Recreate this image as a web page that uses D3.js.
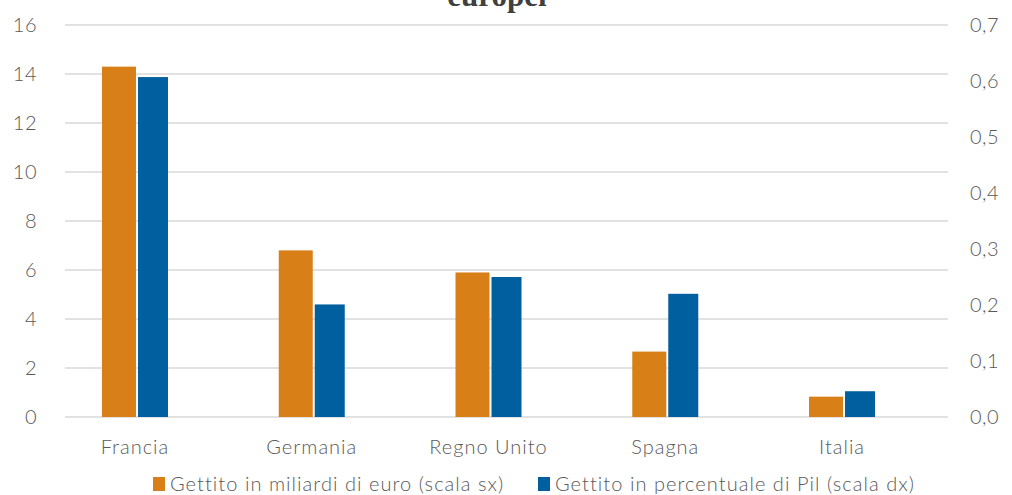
<!DOCTYPE html>
<html>
<head>
<meta charset="utf-8">
<script src="https://cdn.jsdelivr.net/npm/d3@7"></script>
<style>
  body { margin: 0; background: #fff; }
  text { font-family: Lato, "Open Sans", sans-serif; font-weight: 300; }
</style>
</head>
<body>
<div class="chart"></div>
<script>
var countries = ["Francia", "Germania", "Regno Unito", "Spagna", "Italia"];
var gettitoMiliardi = [14.3, 6.8, 5.9, 2.67, 0.83];
var gettitoPil = [0.607, 0.201, 0.25, 0.22, 0.046];
var leftTicks = [0, 2, 4, 6, 8, 10, 12, 14, 16];
var rightTicks = [0, 0.1, 0.2, 0.3, 0.4, 0.5, 0.6, 0.7];
var seriesNames = ["Gettito in miliardi di euro (scala sx)", "Gettito in percentuale di Pil (scala dx)"];

var w = 1012, h = 495;
var orange = "#d97f18", blue = "#005f9e";
var fs = "20px";

var svg = d3.select(".chart").append("svg")
  .attr("width", w)
  .attr("height", h);

var x = d3.scaleBand().domain(countries).range([46.6, 930.4]);
var yL = d3.scaleLinear().domain([0, 16]).range([417, 25]);
var yR = d3.scaleLinear().domain([0, 0.7]).range([417, 25]);

// title (cut off at top)
svg.append("text")
  .attr("x", 497).attr("y", 6)
  .attr("text-anchor", "middle")
  .style("font-family", "'Liberation Serif', serif")
  .style("font-weight", "bold")
  .style("font-size", "31px")
  .style("fill", "#404040")
  .text("europei");

// gridlines
svg.selectAll(".grid").data(leftTicks).enter()
  .append("line")
  .attr("x1", 65).attr("x2", 948)
  .attr("y1", function(d){ return yL(d); })
  .attr("y2", function(d){ return yL(d); })
  .style("stroke", "#d9d9d9")
  .style("stroke-width", 1.5);

// left axis labels
svg.selectAll(".lt").data(leftTicks).enter()
  .append("text")
  .attr("x", 37)
  .attr("y", function(d){ return yL(d) + 7; })
  .attr("text-anchor", "end")
  .style("font-size", fs)
  .style("letter-spacing", "0.5px")
  .style("fill", "#595959")
  .text(function(d){ return d; });

// right axis labels
svg.selectAll(".rt").data(rightTicks).enter()
  .append("text")
  .attr("x", 970)
  .attr("y", function(d){ return yR(d) + 7; })
  .style("font-size", fs)
  .style("letter-spacing", "0.5px")
  .style("fill", "#595959")
  .text(function(d){ return d3.format(".1f")(d).replace(".", ","); });

// bars
svg.selectAll(".b1").data(countries).enter()
  .append("rect")
  .attr("x", function(d){ return x(d) + x.bandwidth()/2 - 33; })
  .attr("width", 34)
  .attr("y", function(d, i){ return yL(gettitoMiliardi[i]); })
  .attr("height", function(d, i){ return yL(0) - yL(gettitoMiliardi[i]); })
  .style("fill", orange);

svg.selectAll(".b2").data(countries).enter()
  .append("rect")
  .attr("x", function(d){ return x(d) + x.bandwidth()/2 + 3; })
  .attr("width", 30)
  .attr("y", function(d, i){ return yR(gettitoPil[i]); })
  .attr("height", function(d, i){ return yR(0) - yR(gettitoPil[i]); })
  .style("fill", blue);

// category labels
svg.selectAll(".cat").data(countries).enter()
  .append("text")
  .attr("x", function(d){ return x(d) + x.bandwidth()/2; })
  .attr("y", 454)
  .attr("text-anchor", "middle")
  .style("font-size", fs)
  .style("letter-spacing", "1px")
  .style("fill", "#595959")
  .text(function(d){ return d; });

// legend
var legend = [{name: seriesNames[0], color: orange, x: 153}, {name: seriesNames[1], color: blue, x: 538}];
var lg = svg.selectAll(".lg").data(legend).enter().append("g");
lg.append("rect")
  .attr("x", function(d){ return d.x; })
  .attr("y", 477).attr("width", 12).attr("height", 14)
  .style("fill", function(d){ return d.color; });
lg.append("text")
  .attr("x", function(d){ return d.x + 17; })
  .attr("y", 491)
  .style("font-size", fs)
  .style("letter-spacing", "1.05px")
  .style("fill", "#595959")
  .text(function(d){ return d.name; });
</script>
</body>
</html>
